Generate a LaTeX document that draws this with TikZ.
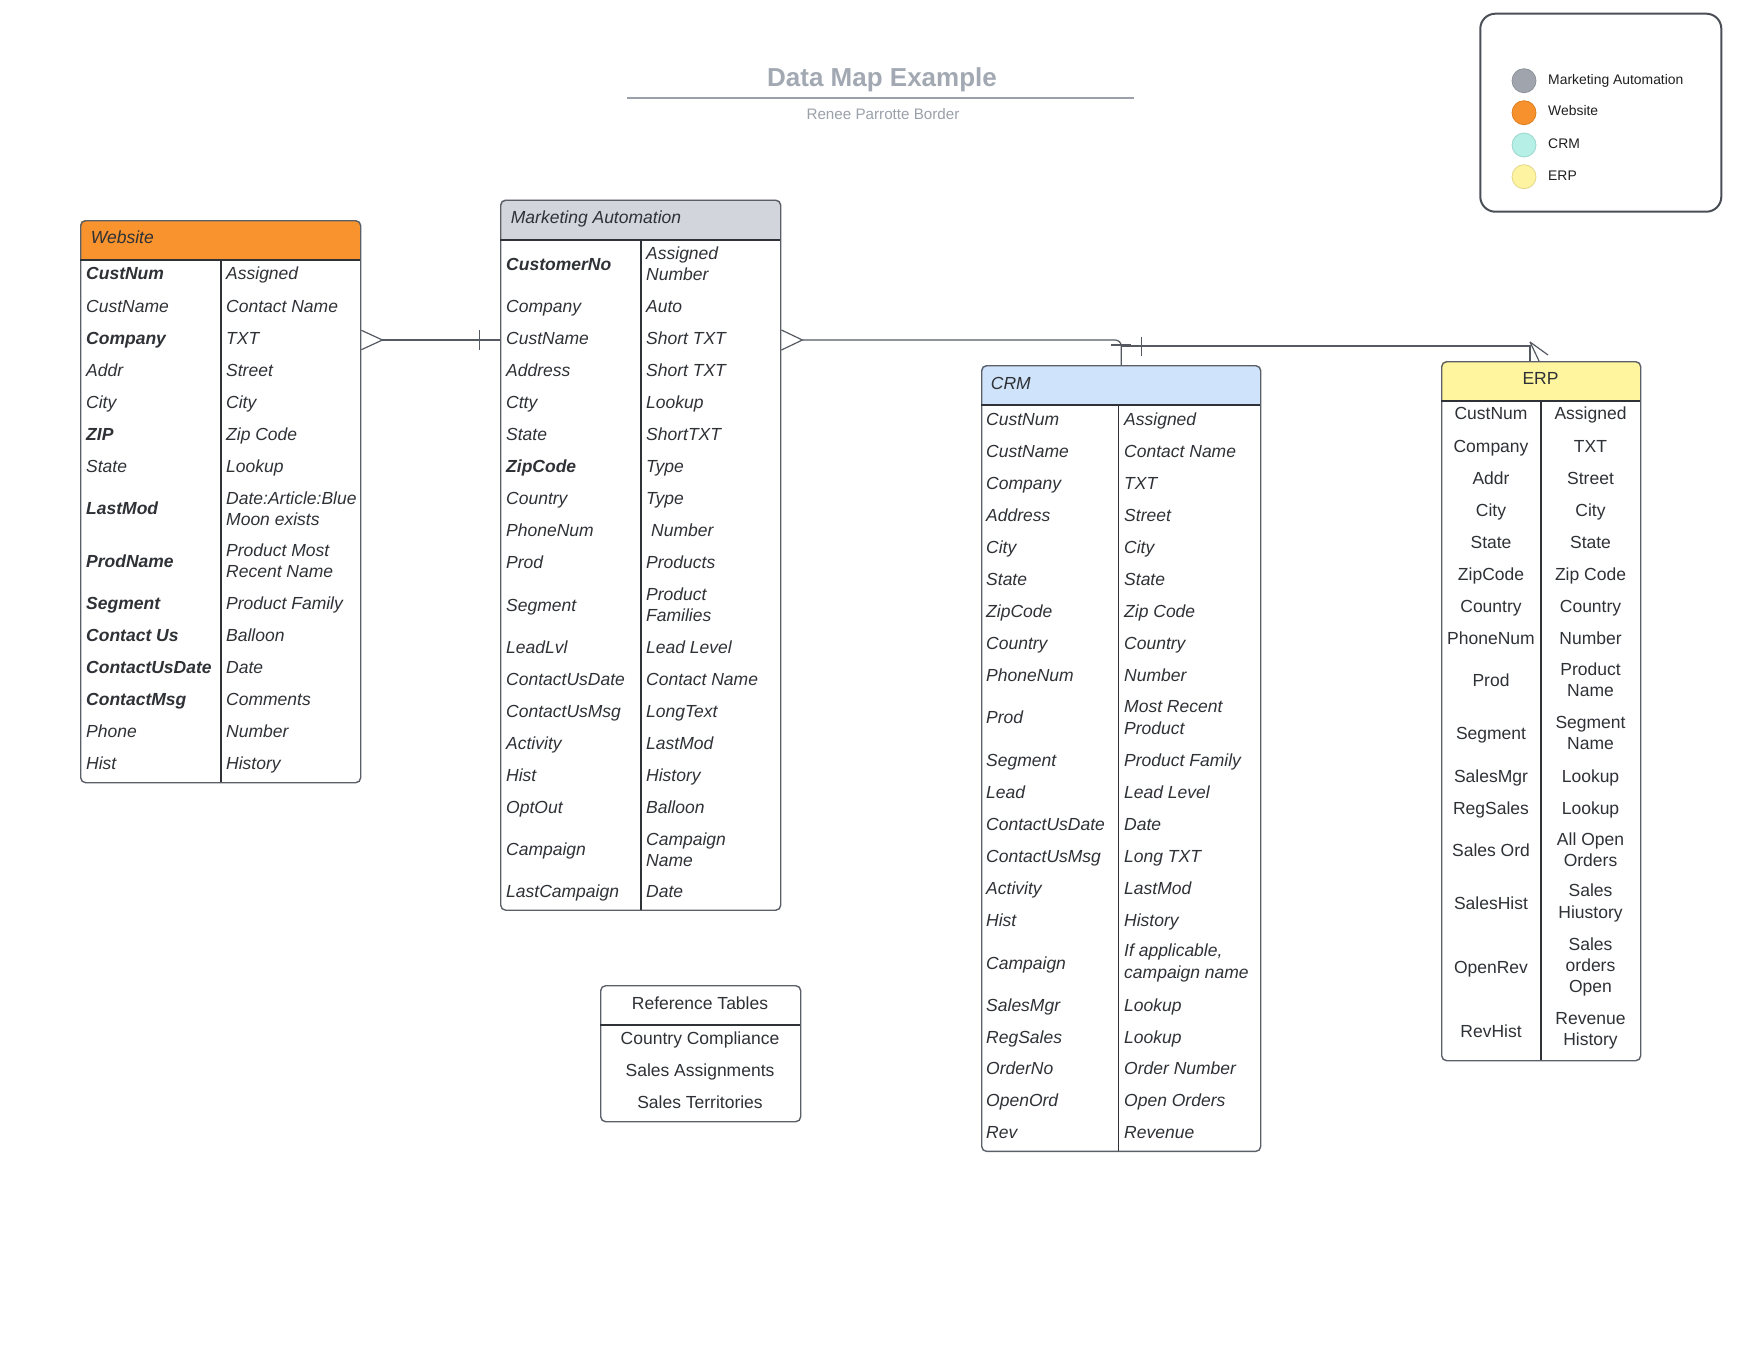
\documentclass[tikz,border=0pt]{standalone}
\usepackage{fontspec}
\setmainfont{Liberation Sans}
\usetikzlibrary{calc}
\definecolor{txt}{HTML}{2E3136}
\definecolor{frameC}{HTML}{5B6068}
\definecolor{divC}{HTML}{2F3236}
\definecolor{connC}{HTML}{555A62}
\definecolor{webC}{HTML}{F8932E}
\definecolor{maC}{HTML}{D2D6DC}
\definecolor{crmC}{HTML}{CFE3FA}
\definecolor{erpC}{HTML}{FFF59E}
\definecolor{titleC}{HTML}{A3A9B3}
\definecolor{legC}{HTML}{4A4F57}
\definecolor{lgGray}{HTML}{A0A5AD}
\definecolor{lgGrayB}{HTML}{8E939B}
\definecolor{lgOrange}{HTML}{F7912E}
\definecolor{lgOrangeB}{HTML}{DE7F1F}
\definecolor{lgCyan}{HTML}{B5EFE6}
\definecolor{lgCyanB}{HTML}{9CD6CD}
\definecolor{lgYellow}{HTML}{FEF3A0}
\definecolor{lgYellowB}{HTML}{E2D888}
\tikzset{
  cell/.style={anchor=west, inner sep=0pt, font=\fontsize{17.5}{21.3}\selectfont\itshape, text=txt, align=left},
  bcell/.style={cell, font=\fontsize{17.5}{21.3}\selectfont\bfseries\itshape},
  ccell/.style={anchor=center, inner sep=0pt, font=\fontsize{17.5}{21.3}\selectfont, text=txt, align=center},
  hcell/.style={cell, anchor=base west},
  frame/.style={draw=frameC, line width=1.4pt, rounded corners=5pt, anchor=north west, inner sep=0pt},
  sepline/.style={draw=divC, line width=1.3pt},
  divline/.style={draw=divC, line width=1.1pt},
  conn/.style={draw=connC, line width=1.2pt},
  legdot/.style={circle, minimum size=24pt, inner sep=0pt, line width=0.8pt},
  leglabel/.style={anchor=base west, inner sep=0pt, font=\fontsize{13.9}{16}\selectfont, text=black!88},
}
% single-line rows: y is the visual (cap) centre of the text
\newcommand\rowx[5]{%
  \node[#1, anchor=base west] (#2a) at ($(\colA,#3)+(0,6.3)$) {#4};
  \node[cell, anchor=base west] (#2b) at ($(\colB,#3)+(0,6.3)$) {#5};}
% rows with a multi-line right cell
\newcommand\rowxm[5]{%
  \node[#1, anchor=base west] (#2a) at ($(\colA,#3)+(0,6.3)$) {#4};
  \node[cell] (#2b) at (\colB,#3) {#5};}
\newcommand\rowc[4]{%
  \node[ccell, anchor=base] (#1a) at ($(\colA,#2)+(0,6.3)$) {#3};
  \node[ccell, anchor=base] (#1b) at ($(\colB,#2)+(0,6.3)$) {#4};}
\newcommand\rowcm[4]{%
  \node[ccell, anchor=base] (#1a) at ($(\colA,#2)+(0,6.3)$) {#3};
  \node[ccell] (#1b) at (\colB,#2) {#4};}
\begin{document}
\begin{tikzpicture}[x=1pt,y=-1pt]
\fill[white] (0,0) rectangle (1760,1360);
\useasboundingbox (0,0) rectangle (1760,1360);

% ---------- title ----------
\node[anchor=base, inner sep=0pt, font=\fontsize{26}{30}\selectfont\bfseries, text=titleC] (title) at (882,86.5) {Data Map Example};
\coordinate (ulA) at (627,97.7);
\coordinate (ulB) at (1134,97.7);
\draw[draw=titleC!95!black, line width=2pt] (ulA) -- (ulB);
\node[anchor=base, inner sep=0pt, font=\fontsize{15.2}{18}\selectfont, text=titleC!95!black] (subtitle) at (883,119) {Renee Parrotte Border};

% ---------- legend ----------
\node[draw=legC, line width=2pt, rounded corners=15pt, minimum width=241pt, minimum height=198pt, anchor=north west, inner sep=0pt] (legend) at (1479.3,12.7) {};
\node[legdot, fill=lgGray, draw=lgGrayB] (lg1) at (1524,80.7) {};
\node[legdot, fill=lgOrange, draw=lgOrangeB] (lg2) at (1524,112.7) {};
\node[legdot, fill=lgCyan, draw=lgCyanB] (lg3) at (1524,145) {};
\node[legdot, fill=lgYellow, draw=lgYellowB] (lg4) at (1524,176.7) {};
\node[leglabel] (lt1) at (1548,84.4) {Marketing Automation};
\node[leglabel] (lt2) at (1548,115.8) {Website};
\node[leglabel] (lt3) at (1548,148.4) {CRM};
\node[leglabel] (lt4) at (1548,180.1) {ERP};

% ---------- Website ----------
\fill[webC, rounded corners=5pt] (80,220) rectangle (360,260);
\fill[webC] (80,240) rectangle (360,260);
\node[frame, minimum width=280pt, minimum height=562pt] (web) at (80,220) {};
\draw[sepline] (80,260) -- (360,260);
\draw[divline] (221,260) -- (221,782);
\node[hcell] (webH) at (90.7,243.6) {Website};
\def\colA{86}\def\colB{226}
\rowx{bcell}{w1}{273.5}{CustNum}{Assigned}
\rowx{cell}{w2}{305.7}{CustName}{Contact Name}
\rowx{bcell}{w3}{338}{Company}{TXT}
\rowx{cell}{w4}{370}{Addr}{Street}
\rowx{cell}{w5}{402}{City}{City}
\rowx{bcell}{w6}{434}{ZIP}{Zip Code}
\rowx{cell}{w7}{466}{State}{Lookup}
\rowxm{bcell}{w8}{508.5}{LastMod}{Date:Article:Blue\\Moon exists}
\rowxm{bcell}{w9}{561}{ProdName}{Product Most\\Recent Name}
\rowx{bcell}{w10}{603}{Segment}{Product Family}
\rowx{bcell}{w11}{635.5}{Contact Us}{Balloon}
\rowx{bcell}{w12}{667.5}{ContactUsDate}{Date}
\rowx{bcell}{w13}{699.5}{ContactMsg}{Comments}
\rowx{cell}{w14}{731.5}{Phone}{Number}
\rowx{cell}{w15}{763.5}{Hist}{History}

% ---------- Marketing Automation ----------
\fill[maC, rounded corners=5pt] (500,199.5) rectangle (780,240);
\fill[maC] (500,220) rectangle (780,240);
\node[frame, minimum width=280pt, minimum height=710pt] (ma) at (500,199.5) {};
\draw[sepline] (500,240) -- (780,240);
\draw[divline] (641,240) -- (641,909.5);
\node[hcell] (maH) at (510.7,223) {Marketing Automation};
\def\colA{506}\def\colB{646}
\rowxm{bcell}{m1}{264}{CustomerNo}{Assigned\\Number}
\rowx{cell}{m2}{306.5}{Company}{Auto}
\rowx{cell}{m3}{338.5}{CustName}{Short TXT}
\rowx{cell}{m4}{370.5}{Address}{Short TXT}
\rowx{cell}{m5}{402.5}{Ctty}{Lookup}
\rowx{cell}{m6}{434.5}{State}{ShortTXT}
\rowx{bcell}{m7}{466.5}{ZipCode}{Type}
\rowx{cell}{m8}{498.5}{Country}{Type}
\node[cell, anchor=base west] (m9a) at (\colA,536.8) {PhoneNum};
\node[cell, anchor=base west] (m9b) at (651,536.8) {Number};
\rowx{cell}{m10}{562.5}{Prod}{Products}
\rowxm{cell}{m11}{605}{Segment}{Product\\Families}
\rowx{cell}{m12}{647}{LeadLvl}{Lead Level}
\rowx{cell}{m13}{679}{ContactUsDate}{Contact Name}
\rowx{cell}{m14}{711}{ContactUsMsg}{LongText}
\rowx{cell}{m15}{743}{Activity}{LastMod}
\rowx{cell}{m16}{775}{Hist}{History}
\rowx{cell}{m17}{807}{OptOut}{Balloon}
\rowxm{cell}{m18}{849.5}{Campaign}{Campaign\\Name}
\rowx{cell}{m19}{891}{LastCampaign}{Date}

% ---------- CRM ----------
\fill[crmC, rounded corners=5pt] (981,365) rectangle (1260,405);
\fill[crmC] (981,385) rectangle (1260,405);
\node[frame, minimum width=279pt, minimum height=785.7pt] (crm) at (981,365) {};
\draw[sepline] (981,405) -- (1260,405);
\draw[divline] (1118.5,405) -- (1118.5,1150.7);
\node[hcell] (crmH) at (990.7,389.3) {CRM};
\def\colA{986}\def\colB{1124}
\rowx{cell}{c1}{419.5}{CustNum}{Assigned}
\rowx{cell}{c2}{451.5}{CustName}{Contact Name}
\rowx{cell}{c3}{483.5}{Company}{TXT}
\rowx{cell}{c4}{515.5}{Address}{Street}
\rowx{cell}{c5}{547.5}{City}{City}
\rowx{cell}{c6}{579}{State}{State}
\rowx{cell}{c7}{611}{ZipCode}{Zip Code}
\rowx{cell}{c8}{643}{Country}{Country}
\rowx{cell}{c9}{675}{PhoneNum}{Number}
\rowxm{cell}{c10}{717.5}{Prod}{Most Recent\\Product}
\rowx{cell}{c11}{760}{Segment}{Product Family}
\rowx{cell}{c12}{792}{Lead}{Lead Level}
\rowx{cell}{c13}{824}{ContactUsDate}{Date}
\rowx{cell}{c14}{856}{ContactUsMsg}{Long TXT}
\rowx{cell}{c15}{888}{Activity}{LastMod}
\rowx{cell}{c16}{920}{Hist}{History}
\rowxm{cell}{c17}{963}{Campaign}{If applicable,\\campaign name}
\rowx{cell}{c18}{1005}{SalesMgr}{Lookup}
\rowx{cell}{c19}{1037}{RegSales}{Lookup}
\rowx{cell}{c20}{1068.5}{OrderNo}{Order Number}
\rowx{cell}{c21}{1100.5}{OpenOrd}{Open Orders}
\rowx{cell}{c22}{1132.5}{Rev}{Revenue}

% ---------- ERP ----------
\fill[erpC, rounded corners=5pt] (1441,361) rectangle (1640,401);
\fill[erpC] (1441,381) rectangle (1640,401);
\node[frame, minimum width=199pt, minimum height=699pt] (erp) at (1441,361) {};
\draw[sepline] (1441,401) -- (1640,401);
\draw[divline] (1541,401) -- (1541,1060);
\node[ccell, anchor=base] (erpH) at (1540.5,384.3) {ERP};
\def\colA{1491}\def\colB{1590.5}
\rowc{e1}{413.5}{CustNum}{Assigned}
\rowc{e2}{445.7}{Company}{TXT}
\rowc{e3}{477.7}{Addr}{Street}
\rowc{e4}{510}{City}{City}
\rowc{e5}{542}{State}{State}
\rowc{e6}{573.7}{ZipCode}{Zip Code}
\rowc{e7}{606}{Country}{Country}
\rowc{e8}{637.7}{PhoneNum}{Number}
\rowcm{e9}{680}{Prod}{Product\\Name}
\rowcm{e10}{733.3}{Segment}{Segment\\Name}
\rowc{e11}{776}{SalesMgr}{Lookup}
\rowc{e12}{807.7}{RegSales}{Lookup}
\rowcm{e13}{850}{Sales Ord}{All Open\\Orders}
\rowcm{e14}{903}{SalesHist}{Sales\\Hiustory}
\rowcm{e15}{967}{OpenRev}{Sales\\orders\\Open}
\rowcm{e16}{1031}{RevHist}{Revenue\\History}

% ---------- Reference tables ----------
\node[frame, minimum width=200pt, minimum height=136pt] (ref) at (600,985) {};
\draw[sepline] (600,1025) -- (800,1025);
\node[ccell, anchor=base] (r0) at (700,1009) {Reference Tables};
\node[ccell, anchor=base] (r1) at (700,1044.6) {Country Compliance};
\node[ccell, anchor=base] (r2) at (700,1076.3) {Sales Assignments};
\node[ccell, anchor=base] (r3) at (700,1108) {Sales Territories};

% ---------- connectors ----------
% Website (many) -- Marketing Automation (one)
\coordinate (p1) at (web.east |- 0,340);
\coordinate (p2) at (ma.west |- 0,340);
\draw[conn] ($(p1)+(0,-9.7)$) -- ($(p1)+(21,0)$) -- ($(p1)+(0,9.7)$);
\draw[conn] ($(p1)+(21,0)$) -- (p2);
\draw[conn] ($(p2)+(-20.5,-10)$) -- ($(p2)+(-20.5,10)$);
% Marketing Automation (many) -- CRM (one)
\coordinate (p3) at (ma.east |- 0,340);
\coordinate (p4) at (crm.north);
\draw[conn] ($(p3)+(0,-10)$) -- ($(p3)+(21,0)$) -- ($(p3)+(0,10)$);
\draw[conn, rounded corners=6pt] ($(p3)+(21,0)$) -- (p4 |- p3) -- (p4);
\draw[conn] ($(p4)+(-10,-20)$) -- ($(p4)+(10,-20)$);
% CRM (one) -- ERP (many)
\coordinate (p5) at ($(erp.north west)+(89,0)$);
\draw[conn] (p4) -- ($(p4)+(0,-19)$) -- ($(p5)+(0,-15)$) -- (p5);
\draw[conn] ($(p4)+(20.5,-28.5)$) -- ($(p4)+(20.5,-9)$);
\draw[conn] ($(p5)+(0,-19)$) -- ($(p5)+(9,0)$);
\draw[conn] ($(p5)+(0,-19)$) -- ($(p5)+(18,-6)$);
\end{tikzpicture}
\end{document}
